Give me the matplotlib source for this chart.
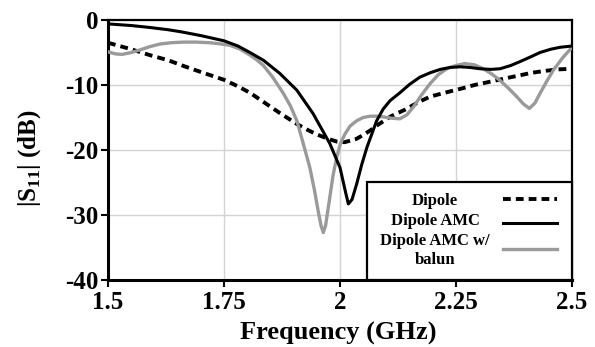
import matplotlib.pyplot as plt
from matplotlib.patches import Rectangle

# |S11| curves
dipole_freq = [1.50, 1.55, 1.59, 1.63, 1.66, 1.70, 1.75, 1.78, 1.806, 1.835, 1.87, 1.907, 1.93,
               1.95, 1.975, 1.993, 2.01, 2.02, 2.035, 2.05, 2.065, 2.08, 2.11, 2.14, 2.17, 2.194,
               2.225, 2.259, 2.29, 2.323, 2.355, 2.388, 2.415, 2.445, 2.47, 2.50]
dipole_s11 = [-3.5, -4.5, -5.4, -6.2, -7.0, -8.0, -9.2, -10.2, -11.2, -12.6, -14.3, -16.0, -16.9,
              -17.6, -18.3, -18.7, -18.8, -18.6, -18.3, -17.7, -17.0, -16.2, -14.8, -13.8, -12.6, -11.8,
              -11.2, -10.6, -10.0, -9.5, -9.0, -8.5, -8.1, -7.8, -7.6, -7.5]

amc_freq = [1.50, 1.55, 1.59, 1.63, 1.66, 1.70, 1.75, 1.78, 1.806, 1.835, 1.87, 1.907, 1.942,
            1.978, 2.00, 2.012, 2.018, 2.026, 2.036, 2.047, 2.058, 2.079, 2.093, 2.108, 2.129, 2.15,
            2.172, 2.195, 2.216, 2.237, 2.259, 2.28, 2.302, 2.325, 2.345, 2.368, 2.388, 2.41,
            2.431, 2.454, 2.474, 2.50]
amc_s11 = [-0.6, -0.85, -1.15, -1.5, -1.85, -2.4, -3.2, -4.0, -5.0, -6.2, -8.2, -10.8, -14.4,
           -19.0, -22.7, -26.5, -28.3, -27.6, -25.2, -22.2, -19.6, -15.5, -13.7, -12.4, -11.2, -9.9,
           -8.8, -8.1, -7.6, -7.3, -7.2, -7.3, -7.5, -7.6, -7.5, -7.0, -6.4, -5.7,
           -5.0, -4.5, -4.2, -4.0]

balun_freq = [1.50, 1.515, 1.53, 1.55, 1.569, 1.59, 1.612, 1.635, 1.662, 1.69, 1.72, 1.745, 1.763,
              1.785, 1.806, 1.82, 1.835, 1.855, 1.878, 1.893, 1.907, 1.92, 1.935, 1.945, 1.953, 1.959,
              1.964, 1.969, 1.978, 1.985, 1.993, 2.001, 2.011, 2.022, 2.036, 2.05, 2.065, 2.08, 2.093,
              2.11, 2.129, 2.144, 2.158, 2.175, 2.194, 2.212, 2.23, 2.25, 2.269, 2.29, 2.309, 2.327,
              2.345, 2.363, 2.381, 2.395, 2.408, 2.42, 2.431, 2.445, 2.46, 2.48, 2.50]
balun_s11 = [-4.9, -5.2, -5.3, -5.0, -4.6, -4.1, -3.7, -3.5, -3.4, -3.4, -3.5, -3.7, -3.9,
             -4.5, -5.4, -6.1, -7.0, -8.8, -11.3, -13.2, -15.5, -18.8, -22.7, -26.2, -29.4, -31.6,
             -32.7, -31.6, -27.3, -23.9, -21.1, -19.0, -17.5, -16.3, -15.5, -15.0, -14.8, -14.8, -14.9,
             -15.1, -15.2, -14.6, -13.4, -11.6, -9.8, -8.4, -7.5, -7.0, -6.7, -6.9, -7.5, -8.3,
             -9.3, -10.5, -11.8, -12.9, -13.6, -12.8, -11.3, -9.5, -7.7, -5.8, -4.2]

x_ticks = [1.5, 1.75, 2.0, 2.25, 2.5]
x_tick_labels = ["1.5", "1.75", "2", "2.25", "2.5"]
y_ticks = [0, -10, -20, -30, -40]

legend_labels = ["Dipole", "Dipole AMC", "Dipole AMC w/\nbalun"]

plt.rcParams['font.family'] = 'Liberation Serif'
plt.rcParams['font.weight'] = 'bold'
plt.rcParams['axes.labelweight'] = 'bold'
plt.rcParams['axes.unicode_minus'] = False
plt.rcParams['mathtext.fontset'] = 'custom'
plt.rcParams['mathtext.rm'] = 'Liberation Serif:bold'
plt.rcParams['mathtext.bf'] = 'Liberation Serif:bold'

fig = plt.figure(figsize=(5.95, 3.47), dpi=100)
ax = fig.add_axes([108 / 595, 1 - 280 / 347, 464 / 595, 260 / 347])

ax.plot(dipole_freq, dipole_s11, color="black", lw=2.8, linestyle=(0, (2.0, 1.3)), dash_capstyle='butt', zorder=3)
ax.plot(amc_freq, amc_s11, color="black", lw=2.2, zorder=4)
ax.plot(balun_freq, balun_s11, color="#9a9a9a", lw=2.4, zorder=3)

ax.set_xlim(1.5, 2.5)
ax.set_ylim(-40, 0)
ax.set_xticks(x_ticks)
ax.set_xticklabels(x_tick_labels)
ax.set_yticks(y_ticks)
ax.tick_params(labelsize=18, direction='out', length=5, width=1.5)
ax.tick_params(axis='x', pad=3)
ax.tick_params(axis='y', pad=2)
ax.grid(True, color="#d4d4d4", lw=1.0)
ax.set_axisbelow(True)

for side in ['left', 'bottom']:
    ax.spines[side].set_linewidth(2.2)
for side in ['top', 'right']:
    ax.spines[side].set_linewidth(1.6)

ax.set_xlabel("Frequency (GHz)", fontsize=19, fontweight='bold')
ax.set_ylabel(r"|S$_{\mathbf{11}}$| (dB)", fontsize=18, fontweight='bold')
ax.xaxis.set_label_coords(0.496, -0.162)
ax.yaxis.set_label_coords(-0.14, 0.47)

# legend box drawn by hand so the labels sit centred like the original
ax.add_patch(Rectangle((0.558, 0.0), 0.442, 0.377, transform=ax.transAxes,
                       facecolor="white", edgecolor="black", lw=1.6, zorder=6, clip_on=False))
ax.text(0.705, 0.305, legend_labels[0], transform=ax.transAxes, ha='center', va='center', fontsize=12, zorder=7)
ax.text(0.705, 0.228, legend_labels[1], transform=ax.transAxes, ha='center', va='center', fontsize=12, zorder=7)
ax.text(0.705, 0.115, legend_labels[2], transform=ax.transAxes, ha='center', va='center', fontsize=12,
        linespacing=1.25, zorder=7)
ax.plot([0.851, 0.968], [0.310, 0.310], transform=ax.transAxes, color="black", lw=2.8,
        linestyle=(0, (2.0, 1.3)), dash_capstyle='butt', zorder=7)
ax.plot([0.851, 0.968], [0.220, 0.220], transform=ax.transAxes, color="black", lw=2.2, zorder=7)
ax.plot([0.851, 0.968], [0.119, 0.119], transform=ax.transAxes, color="#9a9a9a", lw=2.4, zorder=7)

fig.savefig("out.png", dpi=100)
